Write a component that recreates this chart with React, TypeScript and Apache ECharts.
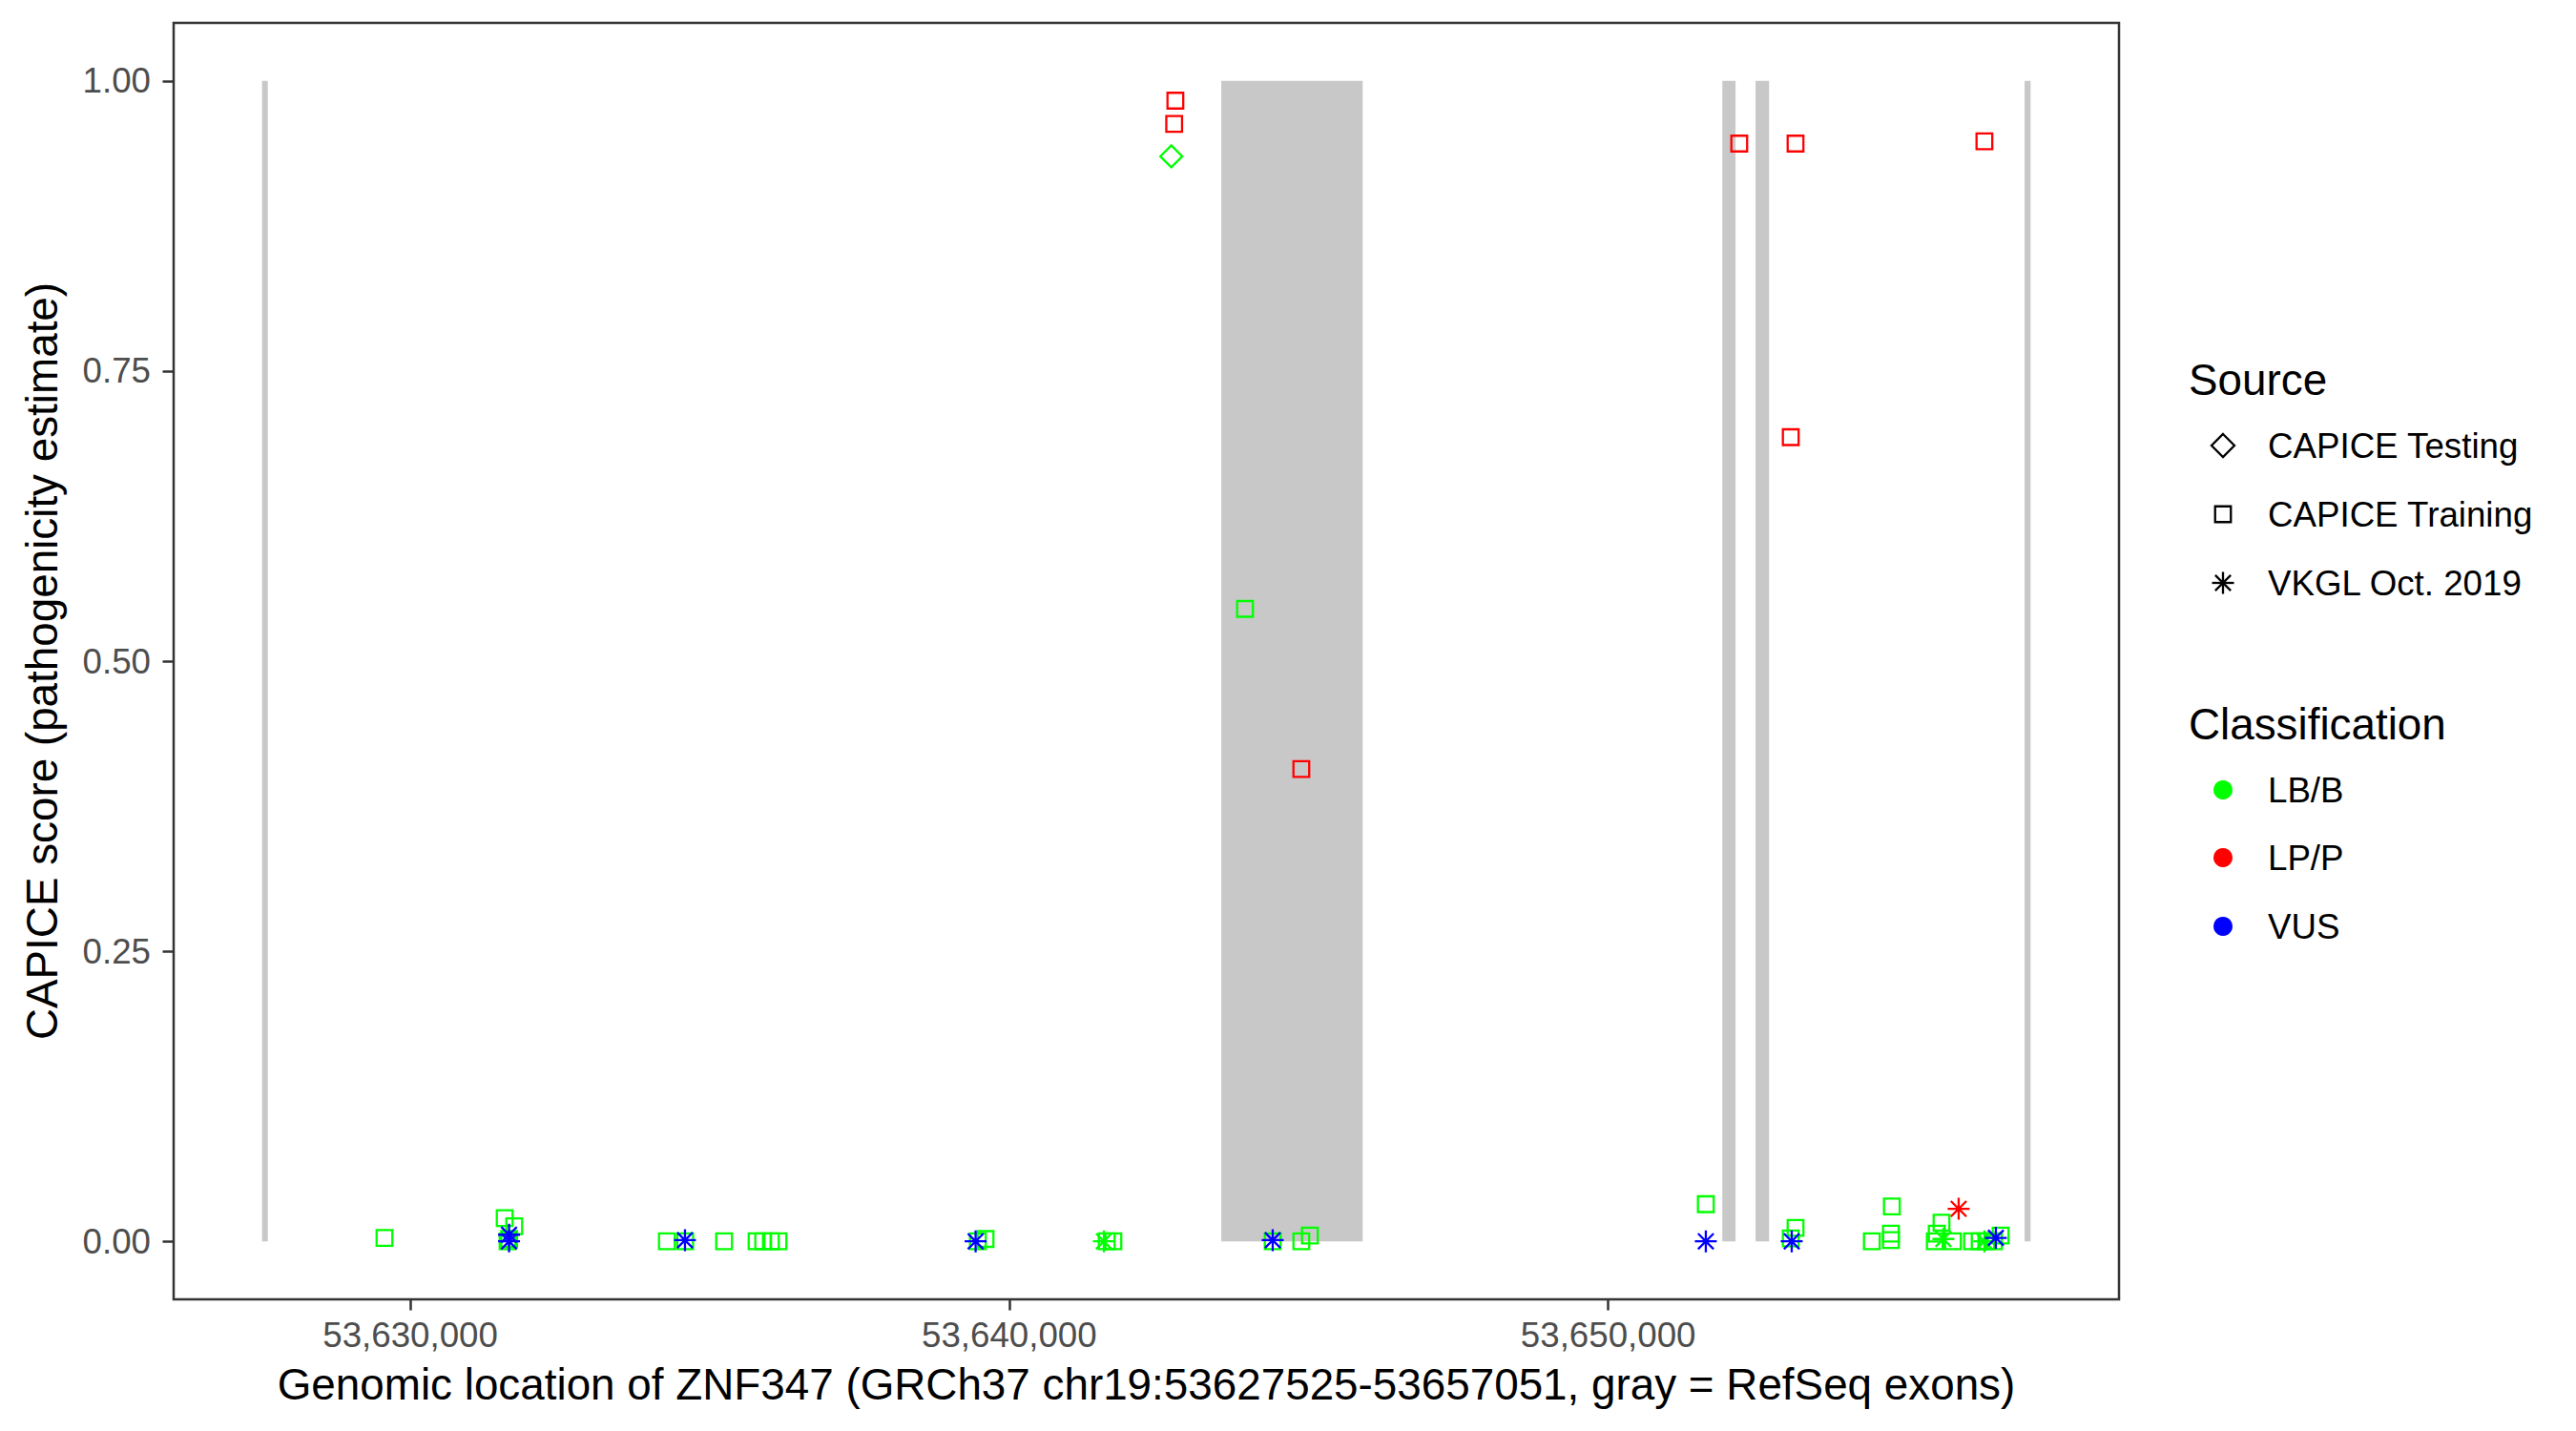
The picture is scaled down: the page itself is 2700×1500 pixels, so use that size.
import React, { useEffect, useRef } from 'react';
import * as echarts from 'echarts';

// ---- Axis settings / ticks ----
const xMin = 53626049;
const xMax = 53658527;
const xTicks = [53630000, 53640000, 53650000];
const yTicks = [0, 0.25, 0.5, 0.75, 1.0];

// ---- RefSeq exons (gray bars, score 0..1) ----
const exonStarts = [53627525, 53643540, 53651905, 53652460, 53656951];
const exonEnds = [53627621, 53645900, 53652125, 53652685, 53657051];

// ---- CAPICE Training, LB/B (green squares) ----
const trainBenignPos = [
  53629569, 53631576, 53631735, 53631624, 53631650, 53634284, 53634590, 53635239,
  53635781, 53635892, 53636020, 53636147, 53639476, 53639604, 53641627, 53641738,
  53643936, 53644398, 53644876, 53645019, 53651629, 53653127, 53653047, 53654401,
  53654735, 53654719, 53654719, 53655564, 53655484, 53655452, 53655755, 53656073,
  53656201, 53656312, 53656440, 53656551,
];
const trainBenignScore = [
  0.003, 0.020, 0.013, 0.0, 0.002, 0.0, 0.0, 0.0,
  0.0, 0.0, 0.0, 0.0, 0.0, 0.002, 0.0, 0.0,
  0.545, 0.0, 0.0, 0.005, 0.032, 0.0115, 0.0025, 0.0,
  0.030, 0.0066, 0.001, 0.016, 0.0066, 0.0, 0.0, 0.0,
  0.0, 0.0, 0.0, 0.005,
];

// ---- CAPICE Training, LP/P (red squares) ----
const trainPathoPos = [53642773, 53642753, 53652187, 53653127, 53656280, 53653047, 53644876];
const trainPathoScore = [0.983, 0.963, 0.946, 0.946, 0.948, 0.693, 0.407];

// ---- CAPICE Testing, LB/B (green diamond) ----
const testBenignPos = [53642705];
const testBenignScore = [0.935];

// ---- VKGL Oct. 2019 ----
const vkglBenignPos = [53641579, 53655595, 53656280];
const vkglBenignScore = [0.0, 0.002, 0.0];
const vkglPathoPos = [53655850];
const vkglPathoScore = [0.028];
const vkglVusPos = [53631649, 53631649, 53634586, 53639438, 53644398, 53651629, 53653063, 53656471];
const vkglVusScore = [0.0057, 0.0, 0.001, 0.0, 0.001, 0.0, 0.0, 0.003];

const GREEN = '#00FF00';
const RED = '#FF0000';
const BLUE = '#0000FF';
const EXON = '#C8C8C8';
const FONT = "'Liberation Sans', Arial, Helvetica, sans-serif";

const ASTERISK =
  'path://M10,0L10,20M0,10L20,10M2.929,2.929L17.071,17.071M2.929,17.071L17.071,2.929';

const zip = (xs: number[], ys: number[]) => xs.map((x, i) => [x, ys[i]]);

function pointSeries(name: string, xs: number[], ys: number[], symbol: string, size: number, color: string, z: number) {
  return {
    name,
    type: 'scatter',
    data: zip(xs, ys),
    symbol,
    symbolSize: size,
    z,
    itemStyle: { color: 'rgba(0,0,0,0)', borderColor: color, borderWidth: 2.3, opacity: 1 },
    emphasis: { disabled: true },
  };
}

export default function App() {
  const ref = useRef<HTMLDivElement>(null);
  useEffect(() => {
    if (!ref.current) return;
    const chart = echarts.init(ref.current, undefined, { renderer: 'svg' });

    const lx = 2330;
    const tx = 2377;
    const legendSym = { stroke: '#000', lineWidth: 2.3, fill: 'none' } as any;
    const arm = 11.5;
    const d = arm * Math.SQRT1_2;
    const astY = 611;

    chart.setOption({
      animation: false,
      backgroundColor: '#FFFFFF',
      grid: {
        left: 182,
        top: 24,
        width: 2039,
        height: 1338,
        show: true,
        borderColor: '#333333',
        borderWidth: 2.5,
        backgroundColor: '#FFFFFF',
      },
      xAxis: {
        type: 'value',
        position: 'bottom',
        min: xMin,
        max: xMax,
        axisLine: { show: false, onZero: false },
        splitLine: { show: false },
        axisTick: {
          show: true,
          inside: false,
          customValues: xTicks,
          length: 11.5,
          lineStyle: { color: '#333333', width: 2.5 },
        },
        axisLabel: {
          customValues: xTicks,
          formatter: (v: number) => Math.round(v).toLocaleString('en-US'),
          fontSize: 36.7,
          fontFamily: FONT,
          color: '#4D4D4D',
          margin: 37,
          verticalAlign: 'middle',
        },
      },
      yAxis: {
        type: 'value',
        position: 'left',
        min: -0.05,
        max: 1.05,
        axisLine: { show: false, onZero: false },
        splitLine: { show: false },
        axisTick: {
          show: true,
          inside: false,
          customValues: yTicks,
          length: 11.5,
          lineStyle: { color: '#333333', width: 2.5 },
        },
        axisLabel: {
          customValues: yTicks,
          formatter: (v: number) => v.toFixed(2),
          fontSize: 36.7,
          fontFamily: FONT,
          color: '#4D4D4D',
          margin: 24,
        },
      },
      series: [
        {
          name: 'RefSeq exons',
          type: 'custom',
          z: 1,
          silent: true,
          data: zip(exonStarts, exonEnds),
          encode: { x: [0, 1] },
          renderItem: (params: any, api: any) => {
            const s = api.value(0);
            const e = api.value(1);
            const p0 = api.coord([s, 1]);
            const p1 = api.coord([e, 0]);
            return {
              type: 'rect',
              shape: { x: p0[0], y: p0[1], width: p1[0] - p0[0], height: p1[1] - p0[1] },
              style: { fill: EXON },
            };
          },
        },
        pointSeries('CAPICE Training LB/B', trainBenignPos, trainBenignScore, 'rect', 16.5, GREEN, 2),
        pointSeries('CAPICE Training LP/P', trainPathoPos, trainPathoScore, 'rect', 16.5, RED, 3),
        pointSeries('CAPICE Testing LB/B', testBenignPos, testBenignScore, 'diamond', 23, GREEN, 4),
        pointSeries('VKGL LB/B', vkglBenignPos, vkglBenignScore, ASTERISK, 23, GREEN, 5),
        pointSeries('VKGL LP/P', vkglPathoPos, vkglPathoScore, ASTERISK, 23, RED, 6),
        pointSeries('VKGL VUS', vkglVusPos, vkglVusScore, ASTERISK, 23, BLUE, 7),
      ],
      graphic: [
        {
          type: 'text',
          x: 44,
          y: 693,
          rotation: Math.PI / 2,
          style: {
            text: 'CAPICE score (pathogenicity estimate)',
            font: `45.8px ${FONT}`,
            fill: '#000',
            textAlign: 'center',
            textVerticalAlign: 'middle',
          },
        },
        {
          type: 'text',
          x: 1201.5,
          y: 1451,
          style: {
            text: 'Genomic location of ZNF347 (GRCh37 chr19:53627525-53657051, gray = RefSeq exons)',
            font: `45.8px ${FONT}`,
            fill: '#000',
            textAlign: 'center',
            textVerticalAlign: 'middle',
          },
        },
        // Legend: Source
        { type: 'text', x: 2294, y: 398, style: { text: 'Source', font: `45.8px ${FONT}`, fill: '#000', textAlign: 'left', textVerticalAlign: 'middle' } },
        {
          type: 'polygon',
          shape: { points: [[lx, 467 - 12], [lx + 12, 467], [lx, 467 + 12], [lx - 12, 467]] },
          style: legendSym,
        },
        { type: 'text', x: tx, y: 467, style: { text: 'CAPICE Testing', font: `36.7px ${FONT}`, fill: '#000', textAlign: 'left', textVerticalAlign: 'middle' } },
        { type: 'rect', shape: { x: lx - 8.25, y: 539 - 8.25, width: 16.5, height: 16.5 }, style: legendSym },
        { type: 'text', x: tx, y: 539, style: { text: 'CAPICE Training', font: `36.7px ${FONT}`, fill: '#000', textAlign: 'left', textVerticalAlign: 'middle' } },
        { type: 'line', shape: { x1: lx, y1: astY - arm, x2: lx, y2: astY + arm }, style: legendSym },
        { type: 'line', shape: { x1: lx - arm, y1: astY, x2: lx + arm, y2: astY }, style: legendSym },
        { type: 'line', shape: { x1: lx - d, y1: astY - d, x2: lx + d, y2: astY + d }, style: legendSym },
        { type: 'line', shape: { x1: lx - d, y1: astY + d, x2: lx + d, y2: astY - d }, style: legendSym },
        { type: 'text', x: tx, y: 611, style: { text: 'VKGL Oct. 2019', font: `36.7px ${FONT}`, fill: '#000', textAlign: 'left', textVerticalAlign: 'middle' } },
        // Legend: Classification
        { type: 'text', x: 2294, y: 759, style: { text: 'Classification', font: `45.8px ${FONT}`, fill: '#000', textAlign: 'left', textVerticalAlign: 'middle' } },
        { type: 'circle', shape: { cx: lx, cy: 828, r: 10 }, style: { fill: GREEN } },
        { type: 'text', x: tx, y: 828, style: { text: 'LB/B', font: `36.7px ${FONT}`, fill: '#000', textAlign: 'left', textVerticalAlign: 'middle' } },
        { type: 'circle', shape: { cx: lx, cy: 899, r: 10 }, style: { fill: RED } },
        { type: 'text', x: tx, y: 899, style: { text: 'LP/P', font: `36.7px ${FONT}`, fill: '#000', textAlign: 'left', textVerticalAlign: 'middle' } },
        { type: 'circle', shape: { cx: lx, cy: 971, r: 10 }, style: { fill: BLUE } },
        { type: 'text', x: tx, y: 971, style: { text: 'VUS', font: `36.7px ${FONT}`, fill: '#000', textAlign: 'left', textVerticalAlign: 'middle' } },
      ],
    });
    return () => chart.dispose();
  }, []);
  return (
    <div
      ref={ref}
      style={{ position: 'absolute', left: 0, top: 0, width: 2700, height: 1500, background: '#fff' }}
    />
  );
}
